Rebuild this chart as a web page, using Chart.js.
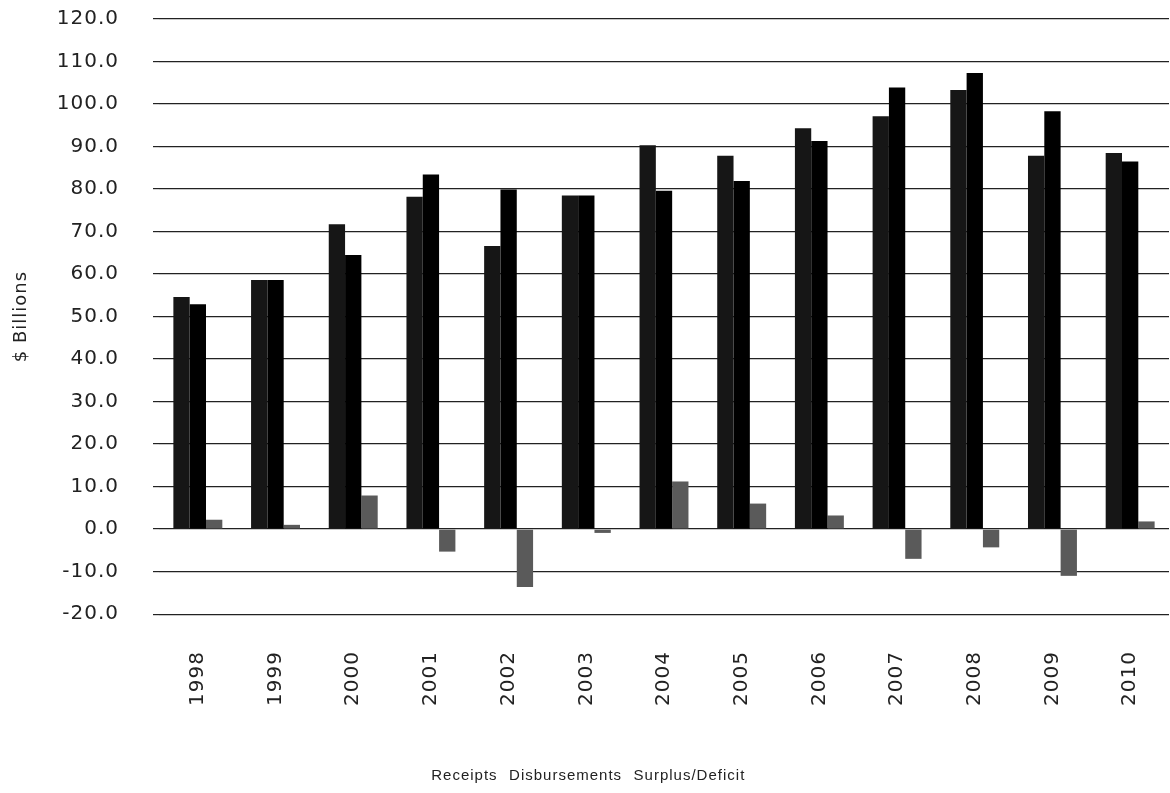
<!DOCTYPE html>
<html>
<head>
<meta charset="utf-8">
<script src="https://cdn.jsdelivr.net/npm/chart.js@4.4.1/dist/chart.umd.min.js"></script>
<style>
    html, body { margin: 0; padding: 0; background: #fff; }
    #wrap { width: 1170px; height: 793px; }
</style>
</head>
<body>
<div id="wrap"><canvas id="budgetChart"></canvas></div>
<script>
// Values ($ billions)
const years = ['1998', '1999', '2000', '2001', '2002', '2003', '2004', '2005', '2006', '2007', '2008', '2009', '2010'];
const receipts = [54.6, 58.6, 71.7, 78.2, 66.6, 78.5, 90.3, 87.8, 94.3, 97.1, 103.3, 87.8, 88.5];
const disbursements = [52.9, 58.6, 64.5, 83.4, 79.9, 78.5, 79.6, 81.9, 91.3, 103.9, 107.3, 98.3, 86.5];
const surplusDeficit = [2.2, 1.0, 7.9, -5.3, -13.6, -0.9, 11.2, 6.0, 3.2, -7.0, -4.3, -11.0, 1.8];

const FONT = "'DejaVu Sans', Verdana, sans-serif";

// The scanned original has loosely tracked lettering
const spacingPlugin = {
    id: 'letterSpacing',
    beforeUpdate(chart) { chart.ctx.letterSpacing = '1px'; },
    beforeDraw(chart) { chart.ctx.letterSpacing = '1px'; }
};

const ctx = document.getElementById('budgetChart');

new Chart(ctx, {
    type: 'bar',
    data: {
        labels: years,
        datasets: [
            { label: 'Receipts', data: receipts, backgroundColor: '#161616' },
            { label: 'Disbursements', data: disbursements, backgroundColor: '#000000' },
            { label: 'Surplus/Deficit', data: surplusDeficit, backgroundColor: '#5a5a5a' }
        ]
    },
    plugins: [spacingPlugin],
    options: {
        responsive: true,
        maintainAspectRatio: false,
        animation: false,
        layout: {
            padding: { top: 19, right: 1, bottom: 0, left: 0 }
        },
        datasets: {
            bar: {
                categoryPercentage: 0.63,
                barPercentage: 1.0,
                borderWidth: 0
            }
        },
        plugins: {
            legend: {
                position: 'bottom',
                labels: {
                    boxWidth: 0,
                    boxHeight: 0,
                    padding: 4,
                    color: '#222',
                    font: { family: "'Liberation Sans', Arial, sans-serif", size: 15 }
                }
            },
            tooltip: { enabled: false }
        },
        scales: {
            x: {
                grid: { display: false, drawTicks: false },
                border: { display: false },
                ticks: {
                    color: '#222',
                    padding: 37,
                    minRotation: 90,
                    maxRotation: 90,
                    font: { family: FONT, size: 20 }
                },
                afterFit(scale) {
                    // room between the year labels and the legend
                    scale.height += 21;
                    scale.paddingLeft = 0;
                    scale.paddingRight = 0;
                }
            },
            y: {
                min: -20,
                max: 120,
                grid: {
                    color: '#222',
                    lineWidth: 1.2,
                    drawTicks: true,
                    tickLength: 6
                },
                border: { display: false },
                ticks: {
                    stepSize: 10,
                    padding: 34,
                    color: '#222',
                    font: { family: FONT, size: 20 },
                    callback: v => v.toFixed(1)
                },
                title: {
                    display: true,
                    text: '$ Billions',
                    color: '#222',
                    padding: { top: 11, bottom: 0 },
                    font: { family: FONT, size: 18 }
                },
                afterFit(scale) {
                    scale.width = 159;
                    scale.paddingTop = 0;
                    scale.paddingBottom = 0;
                }
            }
        }
    }
});
</script>
</body>
</html>
